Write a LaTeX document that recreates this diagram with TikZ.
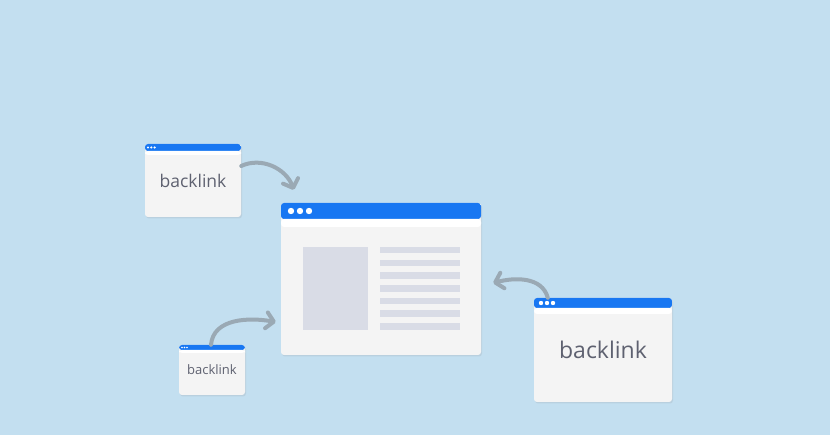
\documentclass[tikz,border=0pt]{standalone}
\usepackage{fontspec}
\setmainfont{Open Sans}
\usetikzlibrary{arrows.meta, shadows}

\definecolor{skyback}{HTML}{C3DFF0}
\definecolor{barblue}{HTML}{1877F2}
\definecolor{pagegray}{HTML}{F4F4F4}
\definecolor{blockgray}{HTML}{D9DCE6}
\definecolor{inkgray}{HTML}{5E6170}
\definecolor{linkgray}{HTML}{9AA9B4}

\tikzset{
  window/.style 2 args={rectangle, rounded corners=3pt, fill=pagegray, inner sep=0pt, text=inkgray,
    drop shadow={opacity=0.15, shadow xshift=1pt, shadow yshift=-1.5pt},
    path picture={
      \fill[barblue] (path picture bounding box.north west) rectangle ([yshift=-#1]path picture bounding box.north east);
      \fill[white] ([yshift=-#1]path picture bounding box.north west) rectangle ([yshift=-#2]path picture bounding box.north east);
    }},
  link/.style={draw=linkgray, line width=4pt, line cap=round, -{Straight Barb[length=7.5pt, width=16pt, round]}},
  block/.style={fill=blockgray}
}

\begin{document}
\begin{tikzpicture}[x=1pt, y=-1pt]
    \fill[skyback] (0,0) rectangle (830,435);

    % windows
    \node[window={7pt}{11pt}, minimum width=96pt, minimum height=73pt, font=\fontsize{17.5}{20}\selectfont] (bl1) at (193,180.5) {\raisebox{-2.5pt}{backlink}};
    \node[window={16pt}{24pt}, minimum width=200pt, minimum height=152pt] (page) at (381,279) {};
    \node[window={5pt}{8pt}, minimum width=66pt, minimum height=50pt, font=\fontsize{13}{16}\selectfont] (bl2) at (212,370) {\raisebox{-2pt}{backlink}};
    \node[window={10pt}{16pt}, minimum width=138pt, minimum height=104pt, font=\fontsize{23}{27}\selectfont] (bl3) at (603,350) {\raisebox{-3pt}{backlink}};

    % dots
    \foreach \dx in {0,3.3,6.6} \fill[white] (148+\dx,147.5) circle (1.2pt);
    \foreach \dx in {0,9,18} \fill[white] (291+\dx,211) circle (3.2pt);
    \foreach \dx in {0,2.5,5} \fill[white] (182+\dx,347.5) circle (0.9pt);
    \foreach \dx in {0,6,12} \fill[white] (541+\dx,303) circle (2.2pt);

    % page content
    \fill[block] (303,247) rectangle (368,330);
    \foreach \i in {0,...,6} \fill[block] (380,247+12.7*\i) rectangle (460,253.5+12.7*\i);

    % links
    \draw[link] ([yshift=14.5pt]bl1.east) to[out=25, in=110] ([xshift=13pt, yshift=13pt]page.north west);
    \draw[link] ([xshift=-1pt]bl2.north) to[out=85, in=170] ([xshift=-5pt, yshift=-43pt]page.west);
    \draw[link] ([xshift=14pt]bl3.north west) to[out=105, in=15] ([xshift=12pt, yshift=-4pt]page.east);
\end{tikzpicture}
\end{document}
